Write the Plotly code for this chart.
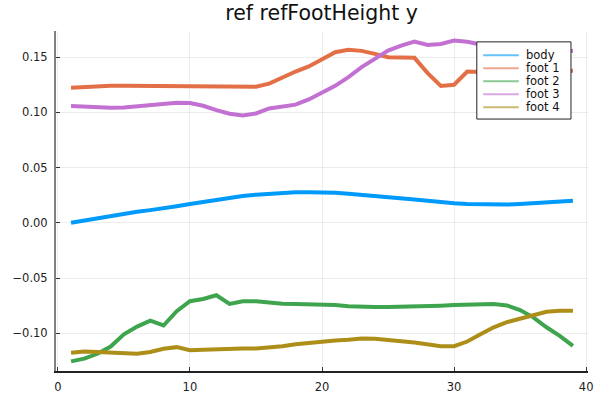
import plotly.graph_objects as go

frames = list(range(1, 40))

body = [0.000, 0.002, 0.0045, 0.0067, 0.0085, 0.010, 0.0115, 0.013, 0.015, 0.017,
        0.019, 0.021, 0.0228, 0.0243, 0.0255, 0.0265, 0.0273, 0.0276, 0.0276, 0.0276,
        0.0272, 0.0264, 0.0255, 0.0245, 0.0234, 0.0224, 0.0212, 0.0199, 0.0186, 0.0177,
        0.0171, 0.0166, 0.0162, 0.0165, 0.0170, 0.0177, 0.0184, 0.0191, 0.0200]

foot1 = [0.1224, 0.123, 0.1242, 0.1242, 0.1241, 0.1240, 0.1239, 0.1240, 0.1241, 0.1240,
         0.1236, 0.1235, 0.1232, 0.1230, 0.1232, 0.126, 0.132, 0.137, 0.1416, 0.1485,
         0.1545, 0.1566, 0.1557, 0.153, 0.150, 0.1497, 0.1494, 0.1356, 0.124, 0.125,
         0.137, 0.1365, 0.1362, 0.1362, 0.1364, 0.1367, 0.137, 0.1373, 0.1377]

foot2 = [-0.1255, -0.123, -0.1186, -0.112, -0.101, -0.094, -0.0886, -0.093, -0.080, -0.071,
         -0.069, -0.0656, -0.0735, -0.071, -0.071, -0.0725, -0.0733, -0.0735, -0.0736, -0.0737,
         -0.0745, -0.0755, -0.0763, -0.0763, -0.0763, -0.0762, -0.076, -0.0755, -0.075, -0.0745,
         -0.0743, -0.074, -0.0735, -0.0748, -0.079, -0.0856, -0.0946, -0.1024, -0.1114]

foot3 = [0.1057, 0.1050, 0.1045, 0.1043, 0.1045, 0.1055, 0.107, 0.1080, 0.1087, 0.1084,
         0.106, 0.102, 0.0988, 0.0973, 0.099, 0.1036, 0.105, 0.107, 0.1117, 0.1177,
         0.124, 0.132, 0.141, 0.1485, 0.156, 0.1605, 0.1641, 0.161, 0.162, 0.165,
         0.164, 0.1615, 0.1605, 0.160, 0.159, 0.158, 0.157, 0.1562, 0.1556]

foot4 = [-0.1177, -0.1165, -0.117, -0.1174, -0.1186, -0.1186, -0.117, -0.114, -0.1126, -0.1153,
         -0.115, -0.1144, -0.1139, -0.1138, -0.1138, -0.113, -0.1117, -0.110, -0.1087, -0.1075,
         -0.1066, -0.106, -0.1048, -0.105, -0.1057, -0.1072, -0.1084, -0.110, -0.1117, -0.1117,
         -0.1075, -0.101, -0.0946, -0.090, -0.0868, -0.0835, -0.0805, -0.0796, -0.0796]

names = ["body", "foot 1", "foot 2", "foot 3", "foot 4"]
values = [body, foot1, foot2, foot3, foot4]
colors = ["#009AFA", "#E36F47", "#3EA44E", "#C271D2", "#AC8E18"]

x_ticks = [0, 10, 20, 30, 40]
y_ticks = [-0.10, -0.05, 0.0, 0.05, 0.10, 0.15]

fig = go.Figure()
for name, vals, color in zip(names, values, colors):
    fig.add_trace(go.Scatter(x=frames, y=vals, mode="lines", name=name,
                             line=dict(color=color, width=4), showlegend=False))

axis_style = dict(
    showgrid=True, gridcolor="rgba(0,0,0,0.07)", gridwidth=1,
    zeroline=False, showline=True,
    ticks="inside", ticklen=4, tickcolor="#333333",
    tickfont=dict(size=11.5, color="#222222"),
    automargin=False, ticklabelstandoff=4,
)

fig.update_xaxes(range=[-0.14, 40.14], tickvals=x_ticks, linecolor="#222222", linewidth=1.5,
                 **axis_style)
fig.update_yaxes(range=[-0.1342, 0.1737], tickvals=y_ticks, tickformat=".2f",
                 linecolor="#808080", linewidth=2, **axis_style)

# compact legend box in the top-right corner (Plots.jl style)
lx0, lx1, ly0, ly1 = 0.791, 0.968, 0.741, 0.968
fig.add_shape(type="rect", xref="paper", yref="paper", x0=lx0, x1=lx1, y0=ly0, y1=ly1,
              line=dict(color="#222222", width=1), fillcolor="white", layer="above")
row_top, row_step = 0.929, 13 / 340
for i, (name, color) in enumerate(zip(names, colors)):
    yy = row_top - i * row_step
    fig.add_shape(type="line", xref="paper", yref="paper", x0=0.803, x1=0.870, y0=yy, y1=yy,
                  line=dict(color=color, width=2), opacity=0.6, layer="above")
    fig.add_annotation(x=0.880, y=yy, xref="paper", yref="paper", text=name,
                       showarrow=False, xanchor="left", yanchor="middle",
                       font=dict(size=11.5, color="#111111"))

fig.update_layout(
    width=600, height=400,
    margin=dict(l=56, r=12, t=31, b=29),
    paper_bgcolor="white", plot_bgcolor="white",
    font=dict(family="DejaVu Sans", color="#222222"),
    title=dict(text="ref refFootHeight y", x=0.536, xanchor="center", y=0.967, yanchor="middle",
               font=dict(size=20.5, color="#111111")),
    showlegend=False,
)

# drop the default page margin so the 600x400 figure fills the window
fig.write_html("out.html", config={"displayModeBar": False},
               post_script="document.body.style.margin='0';")
